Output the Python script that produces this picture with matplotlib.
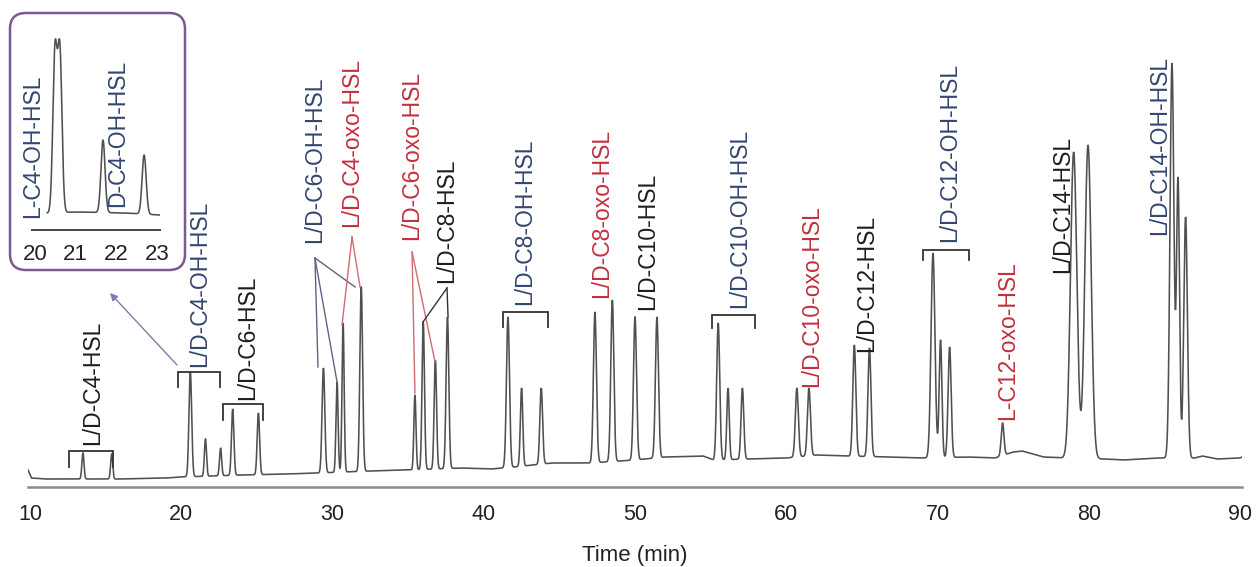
import numpy as np
import matplotlib
matplotlib.use("Agg")
import matplotlib.pyplot as plt
from matplotlib.patches import FancyBboxPatch

plt.rcParams['font.family'] = ['Liberation Sans', 'DejaVu Sans']

# ---------------- data ----------------
# Peak table: retention time (min), apex signal (a.u.), Gaussian width sigma (min)
peak_times = [13.5, 15.4, 20.6, 21.6, 22.6, 23.4, 25.1, 29.4, 30.3, 30.7, 31.9,
              35.45, 36.0, 36.8, 37.6, 41.6, 42.5, 43.8, 47.35, 48.5, 50.0, 51.45,
              55.5, 56.15, 57.1, 60.7, 61.5, 64.5, 65.5, 69.7, 70.2, 70.8, 74.3,
              79.0, 79.95, 85.5, 85.9, 86.4]
peak_heights = [34, 33, 115, 48, 39, 78, 74, 119, 105, 164, 200,
                92, 165, 127, 170, 170, 99, 99, 175, 187, 170, 170,
                164, 99, 99, 99, 99, 142, 139, 234, 147, 140, 64,
                335, 342, 424, 310, 270]
peak_widths = [0.07, 0.07, 0.09, 0.07, 0.07, 0.08, 0.08, 0.09, 0.07, 0.07, 0.09,
               0.07, 0.08, 0.08, 0.09, 0.10, 0.08, 0.09, 0.10, 0.10, 0.10, 0.10,
               0.10, 0.08, 0.09, 0.10, 0.10, 0.10, 0.10, 0.13, 0.09, 0.10, 0.09,
               0.21, 0.21, 0.13, 0.10, 0.12]

# Baseline drift of the detector signal
base_times = [9.87, 10.1, 11, 13, 16, 19, 20, 24, 27, 29, 32.5, 35, 38.5, 40.5, 42,
              44.5, 47, 50, 52, 54.5, 55.2, 57.5, 60, 62, 64, 67, 69, 72, 73.8, 75,
              75.6, 77, 78.5, 81, 82.3, 84.5, 87, 87.5, 88.5, 90, 90.13]
base_levels = [17, 9, 8, 8, 8, 9, 10, 12, 13, 14, 16, 17, 19, 18, 20,
               24, 24, 27, 30, 31, 27, 28, 29, 32, 31, 30, 29, 30, 29, 35,
               36, 30, 29, 28, 27, 29, 29, 31, 28, 29, 30]

# Inset: enlarged 20-23 min window
inset_times = [20.49, 20.61, 21.67, 22.68]
inset_heights = [188, 188, 90, 75]
inset_widths = [0.052, 0.052, 0.05, 0.05]
inset_base_times = [20.3, 21.0, 22.2, 23.07]
inset_base_levels = [17, 18, 17, 15]

# Compound labels
labels = ["L/D-C4-HSL", "L/D-C4-OH-HSL", "L/D-C6-HSL", "L/D-C6-OH-HSL",
          "L/D-C4-oxo-HSL", "L/D-C6-oxo-HSL", "L/D-C8-HSL", "L/D-C8-OH-HSL",
          "L/D-C8-oxo-HSL", "L/D-C10-HSL", "L/D-C10-OH-HSL", "L/D-C10-oxo-HSL",
          "L/D-C12-HSL", "L/D-C12-OH-HSL", "L-C12-oxo-HSL", "L/D-C14-HSL",
          "L/D-C14-OH-HSL"]
label_kinds = ["plain", "oh", "plain", "oh", "oxo", "oxo", "plain", "oh",
               "oxo", "plain", "oh", "oxo", "plain", "oh", "oxo", "plain", "oh"]
inset_labels = ["L-C4-OH-HSL", "D-C4-OH-HSL"]
x_ticks = [10, 20, 30, 40, 50, 60, 70, 80, 90]
inset_ticks = [20, 21, 22, 23]

# ---------------- styling ----------------
kind_colors = {"plain": "#1e1e1e", "oh": "#33466f", "oxo": "#c2303d"}
trace_color = "#505050"
purple = "#7a5a92"
FS_LABEL = 16.5
FS_TICK = 15.5


def chromatogram(t, times, heights, widths, btimes, blevels):
    times = np.asarray(times, float)
    widths = np.asarray(widths, float)
    base = np.interp(t, btimes, blevels)
    # amplitudes chosen so the summed trace reaches each apex value
    A = np.exp(-(times[:, None] - times[None, :]) ** 2 / (2 * widths[None, :] ** 2))
    target = np.asarray(heights, float) - np.interp(times, btimes, blevels)
    amps = np.linalg.solve(A, target)
    sig = base.copy()
    for tc, a, w in zip(times, amps, widths):
        sig += a * np.exp(-(t - tc) ** 2 / (2 * w ** 2))
    return sig


W, H = 1257, 567
fig = plt.figure(figsize=(W / 100, H / 100), dpi=100)

# ---------------- main chromatogram ----------------
ax = fig.add_axes([28 / W, 80 / H, 1214 / W, 447 / H])
t = np.linspace(base_times[0], base_times[-1], 12000)
ax.plot(t, chromatogram(t, peak_times, peak_heights, peak_widths,
                        base_times, base_levels),
        color=trace_color, lw=1.15, solid_joinstyle='miter')
ax.set_xlim(9.868, 90.13)
ax.set_ylim(0, 447)
for s in ("left", "right", "top"):
    ax.spines[s].set_visible(False)
ax.spines["bottom"].set_color("#8a8a8a")
ax.spines["bottom"].set_linewidth(1.8)
ax.set_yticks([])
ax.set_xticks(x_ticks)
ax.tick_params(axis="x", length=0, pad=12, labelsize=FS_TICK, labelcolor="#222222")
ax.set_xlabel("Time (min)", fontsize=16, color="#222222", labelpad=15)

# label anchors (time, signal)
label_pos = [(14.17, 42), (21.24, 120), (24.41, 87), (28.84, 244), (31.29, 260),
             (35.26, 247), (37.57, 204), (42.73, 182), (47.82, 189), (50.86, 177),
             (56.94, 179), (61.70, 100), (65.34, 135), (70.83, 245), (74.66, 67),
             (78.30, 214), (84.71, 252)]
for name, kind, (x, y) in zip(labels, label_kinds, label_pos):
    ax.text(x, y, name, rotation=90, ha="center", va="bottom", fontsize=FS_LABEL,
            color=kind_colors[kind], clip_on=False)

# brackets grouping enantiomer pairs: (left, right, level, tick end)
brackets = [(12.58, 15.49, 36, 20), (19.79, 22.56, 115, 100),
            (22.76, 25.40, 83, 67), (41.27, 44.25, 175, 160),
            (55.09, 57.93, 172, 159), (69.04, 72.08, 237, 227)]
for x0, x1, yl, yb in brackets:
    ax.plot([x0, x0, x1, x1], [yb, yl, yl, yb], color="#333333", lw=1.3,
            solid_joinstyle="miter")

# leader lines from labels to their peaks
leaders = [
    ((28.84, 229), [(29.04, 120), (30.30, 105), (31.49, 200)], "#5d6680"),
    ((31.29, 250), [(30.63, 162), (31.82, 200)], "#d06a74"),
    ((35.26, 235), [(35.45, 94), (36.78, 125)], "#d06a74"),
    ((37.57, 199), [(35.98, 165), (37.64, 170)], "#333333"),
]
for (sx, sy), ends, col in leaders:
    for ex, ey in ends:
        ax.plot([sx, ex], [sy, ey], color=col, lw=1.0)

# arrow pointing to the enlarged view
ax.annotate("", xy=(15.29, 194), xytext=(19.72, 122),
            arrowprops=dict(arrowstyle="-|>", color="#8a76aa", lw=1.0,
                            mutation_scale=11, shrinkA=0, shrinkB=0),
            annotation_clip=False)

# ---------------- inset ----------------
box = FancyBboxPatch((0.10, 2.97), 1.75, 2.57,
                     boxstyle="round,pad=0,rounding_size=0.16",
                     transform=fig.dpi_scale_trans, facecolor="white",
                     edgecolor=purple, lw=1.8, zorder=5)
fig.patches.append(box)

axi = fig.add_axes([32 / W, (H - 230) / H, 128 / W, 200 / H], zorder=6)
axi.patch.set_visible(False)
ti = np.linspace(inset_base_times[0], inset_base_times[-1], 3000)
axi.plot(ti, chromatogram(ti, inset_times, inset_heights, inset_widths,
                          inset_base_times, inset_base_levels),
         color=trace_color, lw=1.15)
axi.set_xlim(19.926, 23.07)
axi.set_ylim(0, 200)
for s in ("left", "right", "top"):
    axi.spines[s].set_visible(False)
axi.spines["bottom"].set_color("#444444")
axi.spines["bottom"].set_linewidth(1.4)
axi.set_yticks([])
axi.set_xticks(inset_ticks)
axi.tick_params(axis="x", length=0, pad=10, labelsize=FS_TICK + 0.5,
                labelcolor="#222222")
inset_label_pos = [(19.95, 12), (22.04, 23)]
for name, (x, y) in zip(inset_labels, inset_label_pos):
    axi.text(x, y, name, rotation=90, ha="center", va="bottom", fontsize=FS_LABEL,
             color=kind_colors["oh"], clip_on=False)

fig.savefig("out.png", dpi=100)
